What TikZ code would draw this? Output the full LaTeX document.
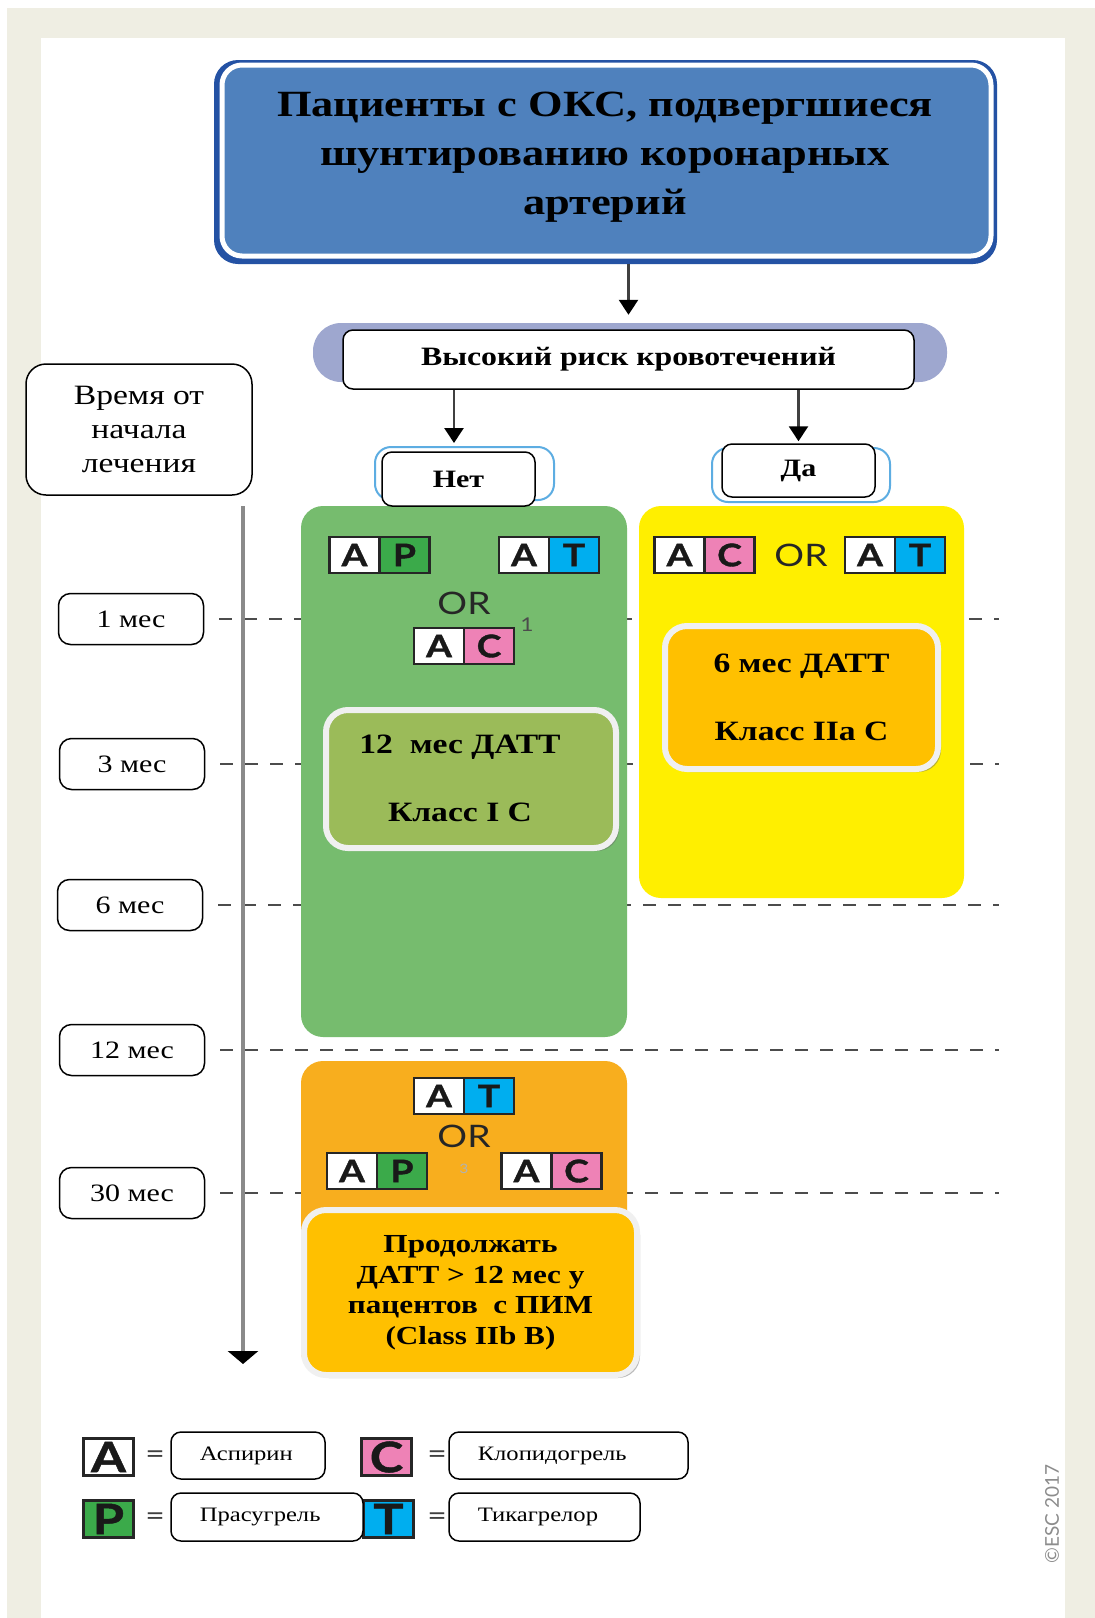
\documentclass[tikz,border=0pt]{standalone}
\usepackage{fontspec}
\setmainfont{Liberation Serif}[FakeStretch=1.2]
\newfontfamily\pillfont{Lato}[FakeStretch=1.2, BoldFeatures={FakeBold=1.2}]
\newfontfamily\plainsans{Lato}
\usetikzlibrary{arrows.meta,shadows,calc}
\newcommand\fsz[2]{\fontsize{#1}{#2}\selectfont}

\definecolor{pagebg}{HTML}{EFEEE3}
\definecolor{titleblue}{HTML}{4F81BD}
\definecolor{titledark}{HTML}{2452A4}
\definecolor{riskglowc}{HTML}{9EA7CF}
\definecolor{glowblue}{HTML}{5DADE2}
\definecolor{boxgreen}{HTML}{76BC6E}
\definecolor{boxyellow}{HTML}{FFEF00}
\definecolor{boxorange}{HTML}{F8AE1E}
\definecolor{innerolive}{HTML}{9BBB59}
\definecolor{inneramber}{HTML}{FFC000}
\definecolor{pillgreen}{HTML}{3BAA4A}
\definecolor{pillpink}{HTML}{EE82B6}
\definecolor{pillblue}{HTML}{00AEEF}
\definecolor{axisgray}{HTML}{8A8A8A}

% a two-part drug pill: aspirin plus a second agent
\newcommand\drugpair[5]{%
  \node[pillsq, fill=white] (#1a) at (#2,#3) {A};
  \node[pillsq, fill=#5, anchor=west] (#1b) at (#1a.east) {#4};}

\begin{document}
\begin{tikzpicture}[x=1pt,y=-1pt,
  tbox/.style={draw=black, line width=1.5pt, fill=white, rounded corners=12pt, inner sep=0pt},
  timebox/.style={tbox, minimum width=145pt, minimum height=51pt, font=\fsz{25}{25}},
  legbox/.style={tbox, rounded corners=10pt, minimum height=47pt},
  legtext/.style={anchor=west, font=\fsz{20.5}{20.5}},
  arr/.style={draw=black!75, line width=2.5pt, -{Triangle[length=15pt,width=19pt,color=black]}},
  dashln/.style={draw=black!70, line width=2.5pt, dash pattern=on 13pt off 12pt},
  panel/.style={rounded corners=22pt, inner sep=0pt},
  inbox/.style={draw=white!94!black, line width=6pt, rounded corners=22pt, inner sep=0pt,
    drop shadow={shadow xshift=3pt, shadow yshift=-3pt, opacity=0.45, fill=black!60}},
  boldtxt/.style={font=\bfseries\fsz{28}{68}, align=center},
  pillsq/.style={draw=black!85, line width=2.5pt, outer sep=0pt, inner sep=0pt,
    minimum width=50pt, minimum height=36pt, font=\pillfont\bfseries\fsz{31}{31}, text=black!90},
  legsq/.style={pillsq, minimum height=37pt, font=\pillfont\bfseries\fsz{42}{42}},
  ortext/.style={font=\pillfont\fsz{31}{31}, text=black!85},
  eqtext/.style={font=\pillfont\fsz{28}{28}, text=black!75}]

\useasboundingbox (0,0) rectangle (1095,1618);
\fill[pagebg] (7,8) rectangle (1095,1618);
\fill[white] (41,38) rectangle (1065,1618);

% ---- title ----
\node[fill=titledark, rounded corners=24pt, minimum width=783pt, minimum height=204pt] (title) at (605.5,162) {};
\node[fill=titleblue, draw=white, line width=5pt, rounded corners=20pt, minimum width=769pt, minimum height=191pt] (titlein) at (606.5,160.5) {};
\node[font=\bfseries\fsz{37}{49}, align=center] (titletxt) at (605,157)
  {Пациенты с ОКС, подвергшиеся\\шунтированию коронарных\\артерий};

% ---- bleeding risk ----
\node[fill=riskglowc, rounded corners=28pt, minimum width=634pt, minimum height=59pt] (riskglow) at (630,352.5) {};
\node[tbox, rounded corners=10pt, minimum width=571pt, minimum height=59pt, font=\bfseries\fsz{26.5}{26.5}] (risk) at (628.5,359.5) {Высокий риск кровотечений};
\draw[arr, shorten >=8pt] (title.south -| risk.north) -- (riskglow.north -| risk.north);

% ---- time axis labels ----
\node[tbox, rounded corners=20pt, minimum width=226pt, minimum height=131pt, font=\fsz{28}{34}, align=center] (timehead) at (139,429.5) {Время от\\начала\\лечения};
\node[timebox] (t1) at (131,619) {1 мес};
\node[timebox] (t2) at (132,764) {3 мес};
\node[timebox] (t3) at (130,905) {6 мес};
\node[timebox] (t4) at (132,1050) {12 мес};
\node[timebox] (t5) at (132,1193) {30 мес};

\coordinate (dend) at (999,0);
\foreach \t in {t1,t2,t3,t4,t5}
  \draw[dashln] ([xshift=15pt]\t.east) -- (\t.east -| dend);

\coordinate (axtop) at (243,506);
\coordinate (axend) at (243,1364);
\draw[draw=axisgray, line width=3.5pt, -{Triangle[length=13pt,width=30pt,color=black]}] (axtop) -- (axend);

% ---- treatment panels ----
\node[panel, fill=boxgreen, minimum width=326pt, minimum height=531pt] (green) at (464,771.5) {};
\node[panel, fill=boxyellow, minimum width=325pt, minimum height=392pt] (yellow) at (801.5,702) {};
\node[panel, fill=boxorange, minimum width=326pt, minimum height=312pt] (orange) at (464,1217) {};

% ---- no / yes ----
\node[draw=glowblue, line width=2pt, fill=white, rounded corners=16pt, minimum width=179pt, minimum height=53pt] (netglow) at (464.5,473.5) {};
\node[tbox, rounded corners=10pt, minimum width=153pt, minimum height=54pt, font=\bfseries\fsz{25}{25}] (net) at (458.5,479) {Нет};
\node[draw=glowblue, line width=2pt, fill=white, rounded corners=16pt, minimum width=178pt, minimum height=54pt] (daglow) at (801,475) {};
\node[tbox, rounded corners=10pt, minimum width=153pt, minimum height=53pt, font=\bfseries\fsz{25}{25}] (da) at (798.5,470.5) {Да};
\draw[arr] (risk.south -| 454,0) -- (454,443);
\draw[arr] (risk.south -| da.north) -- ([yshift=2pt]da.north);

% ---- green panel content ----
\drugpair{apg}{354.5}{555}{P}{pillgreen}
\drugpair{atg}{524}{555}{T}{pillblue}
\node[ortext] (org) at (464,603) {OR};
\drugpair{acg}{439}{646}{C}{pillpink}
\node[font=\pillfont\fsz{19}{19}, text=black!70] (supone) at (527,625) {1};
\node[inbox, fill=innerolive, minimum width=290pt, minimum height=138pt] (dapt12) at (471,779) {};
\node[boldtxt] (dapt12txt) at (460,778) {12\ \ мес ДАТТ\\Класс I C};

% ---- yellow panel content ----
\drugpair{acy}{679.5}{555}{C}{pillpink}
\node[ortext] (ory) at (801,555) {OR};
\drugpair{aty}{870}{555}{T}{pillblue}
\node[inbox, fill=inneramber, minimum width=273pt, minimum height=143pt, boldtxt] (dapt6) at (801.5,697.5) {6 мес ДАТТ\\Класс IIa C};

% ---- orange panel content ----
\drugpair{ato}{439}{1096}{T}{pillblue}
\node[ortext] (oro) at (464,1136) {OR};
\drugpair{apo}{352}{1171}{P}{pillgreen}
\drugpair{aco}{526.5}{1171}{C}{pillpink}
\node[font=\pillfont\fsz{13}{13}, text=black!30] (supthree) at (464,1169) {3};
\node[inbox, fill=inneramber, minimum width=333pt, minimum height=165pt, font=\bfseries\fsz{26}{30.5}, align=center] (longdapt) at (470.5,1292.5)
  {Продолжать\\ДАТТ > 12 мес у\\пацентов\ \ с ПИМ\\(Class IIb B)};

% ---- legend ----
\node[legsq, fill=white] (la) at (108.5,1457) {A};
\node[eqtext] (eqa) at (155,1457) {=};
\node[legsq, fill=pillpink] (lc) at (386.5,1457) {C};
\node[eqtext] (eqc) at (437,1457) {=};
\node[legsq, fill=pillgreen] (lp) at (108.5,1519) {P};
\node[eqtext] (eqp) at (155,1519) {=};
\node[legsq, fill=pillblue] (lt) at (388.5,1519) {T};
\node[eqtext] (eqt) at (437,1519) {=};

\node[legbox, minimum width=154pt] (lasp) at (248,1455.5) {};
\node[legtext] (lasptxt) at ([xshift=26pt]lasp.west) {Аспирин};
\node[legbox, minimum width=239pt] (lclo) at (568.5,1455.5) {};
\node[legtext] (lclotxt) at ([xshift=26pt]lclo.west) {Клопидогрель};
\node[legbox, minimum width=192pt, minimum height=48pt] (lpra) at (267,1517) {};
\node[legtext] (lpratxt) at ([xshift=26pt]lpra.west) {Прасугрель};
\node[legbox, minimum width=191pt, minimum height=48pt] (ltic) at (544.5,1517) {};
\node[legtext] (ltictxt) at ([xshift=26pt]ltic.west) {Тикагрелор};

% ---- copyright ----
\node[rotate=90, font=\plainsans\fsz{19}{19}, text=black!45] (copy) at (1052,1514) {©ESC 2017};

\end{tikzpicture}
\end{document}
